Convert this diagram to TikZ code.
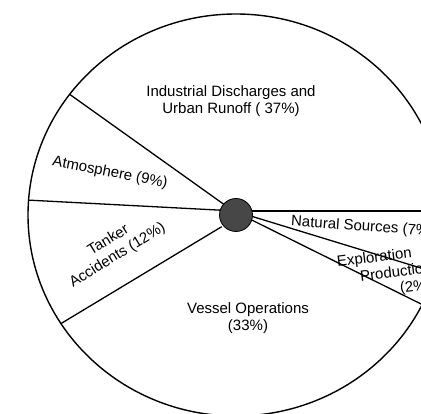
\documentclass[tikz,border=0pt]{standalone}
\usepackage{fontspec}
\setmainfont{Liberation Sans}
\begin{document}
\begin{tikzpicture}[x=1pt,y=-1pt,
  seg/.style={line width=1.3pt},
  rim/.style={line width=1.4pt},
  lbl/.style={font=\fontsize{15}{16.5}\selectfont, align=center, inner sep=0pt},
  hubstyle/.style={circle, draw, line width=0.8pt, fill=black!72, minimum size=33pt, inner sep=0pt}]
\useasboundingbox (0,0) rectangle (421,414);
\clip (0,0) rectangle (421,414);
% sector boundaries, clipped to the rim
\begin{scope}
  \clip (236,215) ellipse [x radius=208pt, y radius=201pt];
  \coordinate (c1) at (236,213);
  \coordinate (c2) at (236,211);
  \coordinate (c3) at (221.7,226.7);
  \coordinate (c5) at (253,216.7);
  \coordinate (c6) at (251.7,220);
  \coordinate (e1) at (55.6,84.3);
  \coordinate (e2) at (7,199);
  \coordinate (e3) at (46,332.6);
  \coordinate (e4) at (450,211);
  \coordinate (e5) at (460,280);
  \coordinate (e6) at (460,323.3);
  \draw[seg] (c1) -- (e1);
  \draw[seg] (c2) -- (e2);
  \draw[seg] (c3) -- (e3);
  \draw[seg] (c2) -- (e4);
  \draw[seg] (c5) -- (e5);
  \draw[seg] (c6) -- (e6);
\end{scope}
\draw[rim] (236,215) ellipse [x radius=208pt, y radius=201pt];
\node[hubstyle] (hub) at (236,215) {};
% labels
\node[lbl] (ind) at (231,101) {Industrial Discharges and\\Urban Runoff ( 37\%)};
\node[lbl, rotate=-11] (atm) at (110,173) {Atmosphere (9\%)};
\node[lbl, rotate=31.5, font=\fontsize{15}{17.5}\selectfont] (tan) at (113,248) {Tanker\\Accidents (12\%)};
\node[lbl] (ves) at (248,318) {Vessel Operations\\(33\%)};
\node[lbl, anchor=west, rotate=-4] (nat) at (291,222) {Natural Sources (7\%)};
\node[lbl, anchor=west, rotate=7] (exp) at (337,263) {Exploration};
\node[lbl, anchor=west, rotate=7] (pro) at (360,276) {Production};
\node[lbl, anchor=west, rotate=7] (two) at (400,289) {(2\%)};
\end{tikzpicture}
\end{document}
